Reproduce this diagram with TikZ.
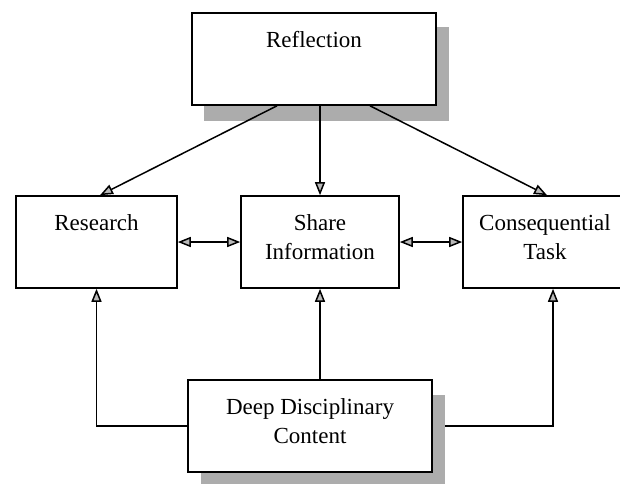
\documentclass[tikz,border=0pt]{standalone}
\usepackage{fontspec}
\setmainfont{Liberation Serif}
\usetikzlibrary{calc,positioning,backgrounds,arrows.meta}

\tikzset{
  box/.style={draw, fill=white, line width=1.6pt, inner sep=0pt},
  txt/.style={align=center, inner sep=0pt, outer sep=0pt, font=\fontsize{23}{29}\selectfont},
  shadowbox/.style={fill=gray!65},
  link/.style={line width=1.5pt, -{Triangle[length=13pt, width=10pt, fill=gray!55]}},
  twoway/.style={line width=1.5pt, {Triangle[length=13pt, width=10pt, fill=gray!55]}-{Triangle[length=13pt, width=10pt, fill=gray!55]}}
}

\begin{document}
\begin{tikzpicture} [x=1pt, y=-1pt]

\useasboundingbox (0,0) rectangle (620,485);

\coordinate (r) at (314,59);
\coordinate (a) at (96.5,242);
\coordinate (s) at (320,242);
\coordinate (c) at (545,242);
\coordinate (d) at (310,426);

\node [box, minimum width=244pt, minimum height=92pt] (refl) at (r) {};
\node [box, minimum width=161pt, minimum height=92pt] (res) at (a) {};
\node [box, minimum width=158pt, minimum height=92pt] (share) at (s) {};
\node [box, minimum width=164pt, minimum height=92pt] (cons) at (c) {};
\node [box, minimum width=244pt, minimum height=92pt] (deep) at (d) {};

\node [txt, below=19pt of refl.north] (refltxt) {Reflection};
\node [txt, below=19pt of res.north] (restxt) {Research};
\node [txt, below=19pt of share.north] (sharetxt) {Share\\Information};
\node [txt, below=19pt of cons.north] (constxt) {Consequential\\Task};
\node [txt, below=19pt of deep.north] (deeptxt) {Deep Disciplinary\\Content};

\begin{scope}[on background layer]
\draw [link] (deep.east) -| ($(cons.south)+(8,0)$);
\fill [shadowbox] ($(refl.north west)+(13,15)$) rectangle ($(refl.south east)+(12,15)$);
\fill [shadowbox] ($(deep.north west)+(14,16)$) rectangle ($(deep.south east)+(12,11)$);
\end{scope}

\draw [link] ($(refl.south)+(-37,0)$) -- ($(res.north)+(3.5,0)$);
\draw [link] (share.north |- refl.south) -- (share.north);
\draw [link] ($(refl.south)+(56,0)$) -- ($(cons.north)+(2,0)$);

\draw [twoway] (res.east) -- (share.west);
\draw [twoway] (share.east) -- (cons.west);

\draw [link] (deep.west) -| (res.south);
\draw [link] (share.south |- deep.north) -- (share.south);

\end{tikzpicture}
\end{document}
